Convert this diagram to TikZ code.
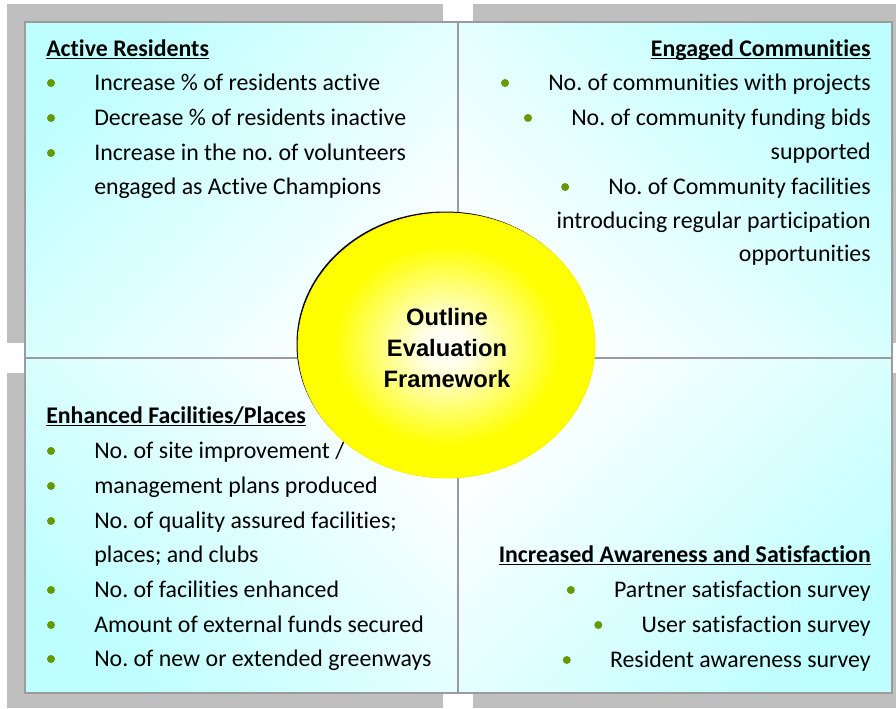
\documentclass[tikz,border=0pt]{standalone}
\usepackage{fontspec}
\setmainfont{Carlito}[Ligatures={NoCommon}]
\newfontfamily\hubfont{Liberation Sans}
\usetikzlibrary{shapes.geometric,calc}
\frenchspacing

\definecolor{panelcyan}{RGB}{190,255,255}
\definecolor{shadowgray}{RGB}{191,191,191}
\definecolor{bordergray}{RGB}{155,155,155}
\definecolor{bulletgreen}{RGB}{102,153,0}

\pgfdeclareradialshading{hubshade}{\pgfpoint{0bp}{0bp}}{%
  color(0bp)=(white); color(4bp)=(yellow!8!white); color(19bp)=(yellow); color(50bp)=(yellow)}

\tikzset{
  item/.style={inner sep=0pt, font=\fontsize{17.9}{20}\selectfont},
  heading/.style={item, font=\fontsize{17.9}{20}\selectfont\bfseries},
  dot/.style={circle, fill=bulletgreen, inner sep=0pt, minimum size=6pt},
  panel/.style={draw=bordergray, line width=1.2pt},
  backshadow/.style={fill=shadowgray},
  uline/.style={line width=1.2pt},
  hub/.style={ellipse, inner sep=0pt, minimum width=222.75pt, minimum height=198.75pt,
    shading=hubshade, draw=yellow, line width=0.6pt},
  hubtext/.style={inner sep=0pt, align=center, font=\hubfont\bfseries\fontsize{17.8}{23.6}\selectfont},
}

\begin{document}
\begin{tikzpicture}[x=0.75pt, y=-0.75pt]

\fill[white] (0,0) rectangle (896,708);
\useasboundingbox (0,0) rectangle (896,708);

% shadows
\fill[backshadow] (7,4) rectangle (443,343);
\fill[backshadow] (473,4) rectangle (896,343);
\fill[backshadow] (7,373) rectangle (443,708);
\fill[backshadow] (473,373) rectangle (896,708);

% the four panels
\draw[panel, top color=panelcyan, bottom color=white, shading angle=45] (25,22) rectangle (458,358);
\draw[panel, top color=panelcyan, bottom color=white, shading angle=-45] (458,22) rectangle (892,358);
\draw[panel, top color=white, bottom color=panelcyan, shading angle=-45] (25,358) rectangle (458,693);
\draw[panel, top color=white, bottom color=panelcyan, shading angle=45] (458,358) rectangle (892,693);

% Active Residents
\node[heading, anchor=base west] (ar) at (46,56) {Active Residents};
\draw[uline] ($(ar.base west)+(0,2.5)$) -- ($(ar.base east)+(0,2.5)$);
\node[item, anchor=base west] (ar1) at (94,90) {Increase \% of residents active};
\node[item, anchor=base west] (ar2) at (94,125) {Decrease \% of residents inactive};
\node[item, anchor=base west] (ar3) at (94,160) {Increase in the no. of volunteers};
\node[item, anchor=base west] (ar4) at (94,194) {engaged as Active Champions};
\foreach \n in {ar1,ar2,ar3}
  \node[dot] at ($(\n.base west)+(-43,-7)$) {};

% Engaged Communities
\node[heading, anchor=base east] (ec) at (871,56) {Engaged Communities};
\draw[uline] ($(ec.base west)+(0,2.5)$) -- ($(ec.base east)+(0,2.5)$);
\node[item, anchor=base east] (ec1) at (871,90) {No. of communities with projects};
\node[item, anchor=base east] (ec2) at (871,125) {No. of community funding bids};
\node[item, anchor=base east] (ec3) at (871,159) {supported};
\node[item, anchor=base east] (ec4) at (871,194) {No. of Community facilities};
\node[item, anchor=base east] (ec5) at (871,228) {introducing regular participation};
\node[item, anchor=base east] (ec6) at (871,261) {opportunities};
\foreach \n in {ec1,ec2,ec4}
  \node[dot] at ($(\n.base west)+(-43,-7)$) {};

% Enhanced Facilities/Places
\node[heading, anchor=base west] (ef) at (46,423) {Enhanced Facilities/Places};
\draw[uline] ($(ef.base west)+(0,2.5)$) -- ($(ef.base east)+(0,2.5)$);
\node[item, anchor=base west] (ef1) at (94,458) {No. of site improvement /};
\node[item, anchor=base west] (ef2) at (94,493) {management plans produced};
\node[item, anchor=base west] (ef3) at (94,528) {No. of quality assured facilities;};
\node[item, anchor=base west] (ef4) at (94,562) {places; and clubs};
\node[item, anchor=base west] (ef5) at (94,597) {No. of facilities enhanced};
\node[item, anchor=base west] (ef6) at (94,632) {Amount of external funds secured};
\node[item, anchor=base west] (ef7) at (94,666) {No. of new or extended greenways};
\foreach \n in {ef1,ef2,ef3,ef5,ef6,ef7}
  \node[dot] at ($(\n.base west)+(-43,-7)$) {};

% Increased Awareness and Satisfaction
\node[heading, anchor=base east] (ia) at (871,562) {Increased Awareness and Satisfaction};
\draw[uline] ($(ia.base west)+(0,2.5)$) -- ($(ia.base east)+(0,2.5)$);
\node[item, anchor=base east] (ia1) at (871,597) {Partner satisfaction survey};
\node[item, anchor=base east] (ia2) at (871,632) {User satisfaction survey};
\node[item, anchor=base east] (ia3) at (871,667) {Resident awareness survey};
\foreach \n in {ia1,ia2,ia3}
  \node[dot] at ($(\n.base west)+(-43,-7)$) {};

% centre
\fill[black] (445,344) ellipse [x radius=148.5, y radius=132.5];
\node[hub] (hub) at (446.5,345.5) {};
\node[hubtext] (hublabel) at (447,348) {Outline\\Evaluation\\Framework};

\end{tikzpicture}
\end{document}
